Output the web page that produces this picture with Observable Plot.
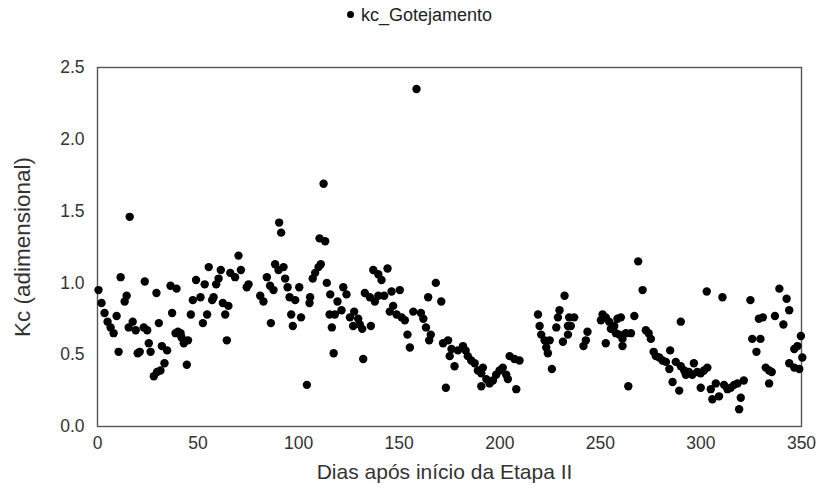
<!DOCTYPE html>
<html>
<head>
<meta charset="utf-8">
<script src="https://cdn.jsdelivr.net/npm/d3@7"></script>
<script src="https://cdn.jsdelivr.net/npm/@observablehq/plot@0.6"></script>
<style>
  body { margin: 0; background: #fff; font-family: "Liberation Sans", Arial, sans-serif; }
  #legend { height: 40px; box-sizing: border-box; padding-top: 5px; padding-left: 20px; text-align: center; font-size: 18px; color: #222; }
  #legend .dot { display: inline-block; width: 7px; height: 7px; border-radius: 50%; background: #000; margin-right: 7px; vertical-align: 3px; }
</style>
</head>
<body>
<div id="legend"><span class="dot"></span>kc_Gotejamento</div>
<div id="chart"></div>
<script>
// Days after the start of stage II
const dias = [
  0.5, 2, 3.5, 5, 6.5, 8, 9.5, 10.5, 11.5, 13.5, 14.5, 15.5, 16, 17.5, 19, 20, 21, 23, 23.5, 24.7,
  25.5, 26.4, 28, 29.3, 29.6, 30.5, 31.3, 32, 33.3, 34.6, 36.3, 37.1, 38.8, 39.3, 40, 41.3, 41.8, 42.9, 44.4, 45,
  46.4, 47.4, 49, 51.2, 52.4, 53.3, 54.5, 55.3, 57,
  57.7, 59, 60.2, 61.3, 62.3, 63.5, 64.3, 65.1, 66, 68.4, 70.1, 71.3, 74.2, 75.1, 80.9, 82.5, 84.2, 85.8, 86.2, 87.5,
  88.3, 90, 90.3, 91.3, 92.5, 93.3, 94.5, 95.5, 96.3, 97.1, 98.3, 100.3, 101.2, 104.1, 105.4, 105.7, 107, 108.2, 109.9, 110.4,
  111, 112.4, 113.2, 114, 115.4, 115.7, 116.5, 117.4,
  118, 119.3, 121.3, 122.2, 123.8, 125.5, 127.1, 127.6, 129.6, 130.4, 131.6, 132.1, 132.9, 135.4, 135.9, 137.1, 137.9, 139.6, 139.6, 141.2,
  142.5, 144.2, 145.3, 146.2, 147, 148.7, 150.3, 151.2, 152.8, 154.1, 155.3, 157, 158.6, 160.8, 162, 163.3, 164.4, 164.9, 165.7, 168.2,
  170.9, 171.8, 173.2, 174.3,
  175.1, 176, 177.5, 179.2, 181.7, 183, 184.1, 185.8, 187.5, 189.1, 190.8, 190.8, 191.6, 193.3, 194.9, 196.6, 198.2, 199.9, 201.5, 203.2,
  204, 204.9, 207.3, 208.2, 209.8, 219, 219.8, 220.6, 222.3, 223.1, 223.9, 224.8, 225.9, 228.1, 228.9, 229.7, 231.4, 232.2, 233.9, 233.9,
  234.5, 235.3, 237, 241.6, 242.8, 243.6, 250.3, 251.1, 252.7, 252.7, 254.4, 255.2, 256.9, 257.7, 258.5, 259.4, 260.2, 261, 261, 262.7,
  263.9, 265.2, 266.9, 268.8, 271, 272.6, 274, 275.1, 276.5, 277.6, 279.3, 280.9, 282.6, 284.3, 284.7, 285.9, 287.5, 289.2, 290, 290,
  291.7,
  292.5, 294, 295.7, 296.5, 298.2, 299.9, 299.9, 301.5, 302.9, 303.2, 304.9, 305.7, 307.4, 309, 310.7, 311.5, 313.2, 314.8, 316.5, 318.2,
  319, 319.8, 321.3, 324.6, 325.5, 327.6, 328.8, 329.6, 330.8, 332.2, 333.9, 333.9, 335.2, 336.8, 339, 341, 342.6, 343.9, 343.9, 346.4,
  346.4, 348, 348.9, 349.7, 350.4
];

// Crop coefficient, drip irrigation
const kc = [
  0.95, 0.86, 0.79, 0.73, 0.69, 0.65, 0.77, 0.52, 1.04, 0.87, 0.91, 0.69, 1.46, 0.73, 0.67, 0.51, 0.52, 0.69, 1.01, 0.67,
  0.58, 0.52, 0.35, 0.93, 0.38, 0.72, 0.39, 0.56, 0.44, 0.53, 0.98, 0.79, 0.65, 0.96, 0.66, 0.65, 0.62, 0.58, 0.43, 0.60,
  0.78, 0.88, 1.02, 0.90, 0.72, 0.99, 0.78, 1.11, 0.88,
  0.90, 0.99, 1.03, 1.09, 0.86, 0.78, 0.60, 0.84, 1.07, 1.04, 1.19, 1.09, 0.97, 0.99, 0.91, 0.87, 1.04, 0.98, 0.72, 0.95,
  1.13, 1.09, 1.42, 1.35, 1.11, 1.03, 0.97, 0.90, 0.78, 0.70, 0.88, 0.97, 0.76, 0.29, 0.86, 0.90, 1.03, 1.07, 1.11, 1.31,
  1.13, 1.69, 1.29, 1.00, 0.78, 0.92, 0.69, 0.51,
  0.78, 0.87, 0.81, 0.97, 0.92, 0.76, 0.70, 0.80, 0.75, 0.71, 0.68, 0.47, 0.93, 0.90, 0.70, 1.09, 0.87, 1.06, 0.91, 1.02,
  0.91, 1.10, 0.80, 0.94, 0.84, 0.78, 0.95, 0.76, 0.74, 0.64, 0.55, 0.80, 2.35, 0.79, 0.75, 0.69, 0.90, 0.60, 0.64, 1.00,
  0.87, 0.58, 0.27, 0.60,
  0.49, 0.54, 0.42, 0.53, 0.56, 0.53, 0.49, 0.46, 0.44, 0.39, 0.37, 0.28, 0.41, 0.33, 0.30, 0.32, 0.36, 0.39, 0.41, 0.36,
  0.33, 0.49, 0.47, 0.26, 0.46, 0.78, 0.70, 0.64, 0.60, 0.55, 0.51, 0.60, 0.40, 0.69, 0.76, 0.81, 0.59, 0.91, 0.70, 0.64,
  0.76, 0.70, 0.76, 0.56, 0.60, 0.66, 0.74, 0.78, 0.76, 0.58, 0.73, 0.68, 0.70, 0.65, 0.75, 0.64, 0.76, 0.61, 0.56, 0.65,
  0.28, 0.65, 0.77, 1.15, 0.95, 0.67, 0.65, 0.61, 0.52, 0.49, 0.48, 0.46, 0.45, 0.40, 0.53, 0.31, 0.45, 0.25, 0.42, 0.73,
  0.39,
  0.36, 0.38, 0.36, 0.44, 0.38, 0.37, 0.27, 0.39, 0.94, 0.41, 0.26, 0.19, 0.30, 0.21, 0.90, 0.29, 0.26, 0.27, 0.29, 0.30,
  0.12, 0.20, 0.32, 0.88, 0.61, 0.52, 0.75, 0.61, 0.76, 0.41, 0.39, 0.30, 0.38, 0.77, 0.96, 0.71, 0.89, 0.81, 0.44, 0.41,
  0.54, 0.56, 0.40, 0.63, 0.48
];

const xTicks = [0, 50, 100, 150, 200, 250, 300, 350];
const yTicks = [0, 0.5, 1.0, 1.5, 2.0, 2.5];
const xTitle = "Dias após início da Etapa II";
const yTitle = "Kc (adimensional)";

const pontos = dias.map((d, i) => ({dia: d, kc: kc[i]}));

const chart = Plot.plot({
  width: 819,
  height: 452,
  marginTop: 27,
  marginBottom: 66,
  marginLeft: 97,
  marginRight: 18,
  style: {fontFamily: "Liberation Sans, Arial, sans-serif", fontSize: "17px", color: "#333", background: "#fff"},
  x: {domain: [0, 350]},
  y: {domain: [0, 2.5]},
  marks: [
    Plot.axisX({ticks: xTicks, tickSize: 0, tickPadding: 10, fontSize: 17.5, label: null}),
    Plot.axisY({ticks: yTicks, tickSize: 0, tickPadding: 13, fontSize: 17.5, tickFormat: d3.format(".1f"), label: null}),
    Plot.frame({stroke: "#555", strokeWidth: 1.4}),
    Plot.dot(pontos, {x: "dia", y: "kc", r: 4.2, fill: "#000", stroke: "none"}),
    Plot.text([xTitle], {frameAnchor: "bottom", text: d => d, dy: 52, dx: -5, fontSize: 21, fill: "#333"}),
    Plot.text([yTitle], {frameAnchor: "left", text: d => d, textAnchor: "middle", dx: -75, rotate: -90, fontSize: 22.5, fill: "#333"})
  ]
});
document.getElementById("chart").appendChild(chart);
</script>
</body>
</html>
